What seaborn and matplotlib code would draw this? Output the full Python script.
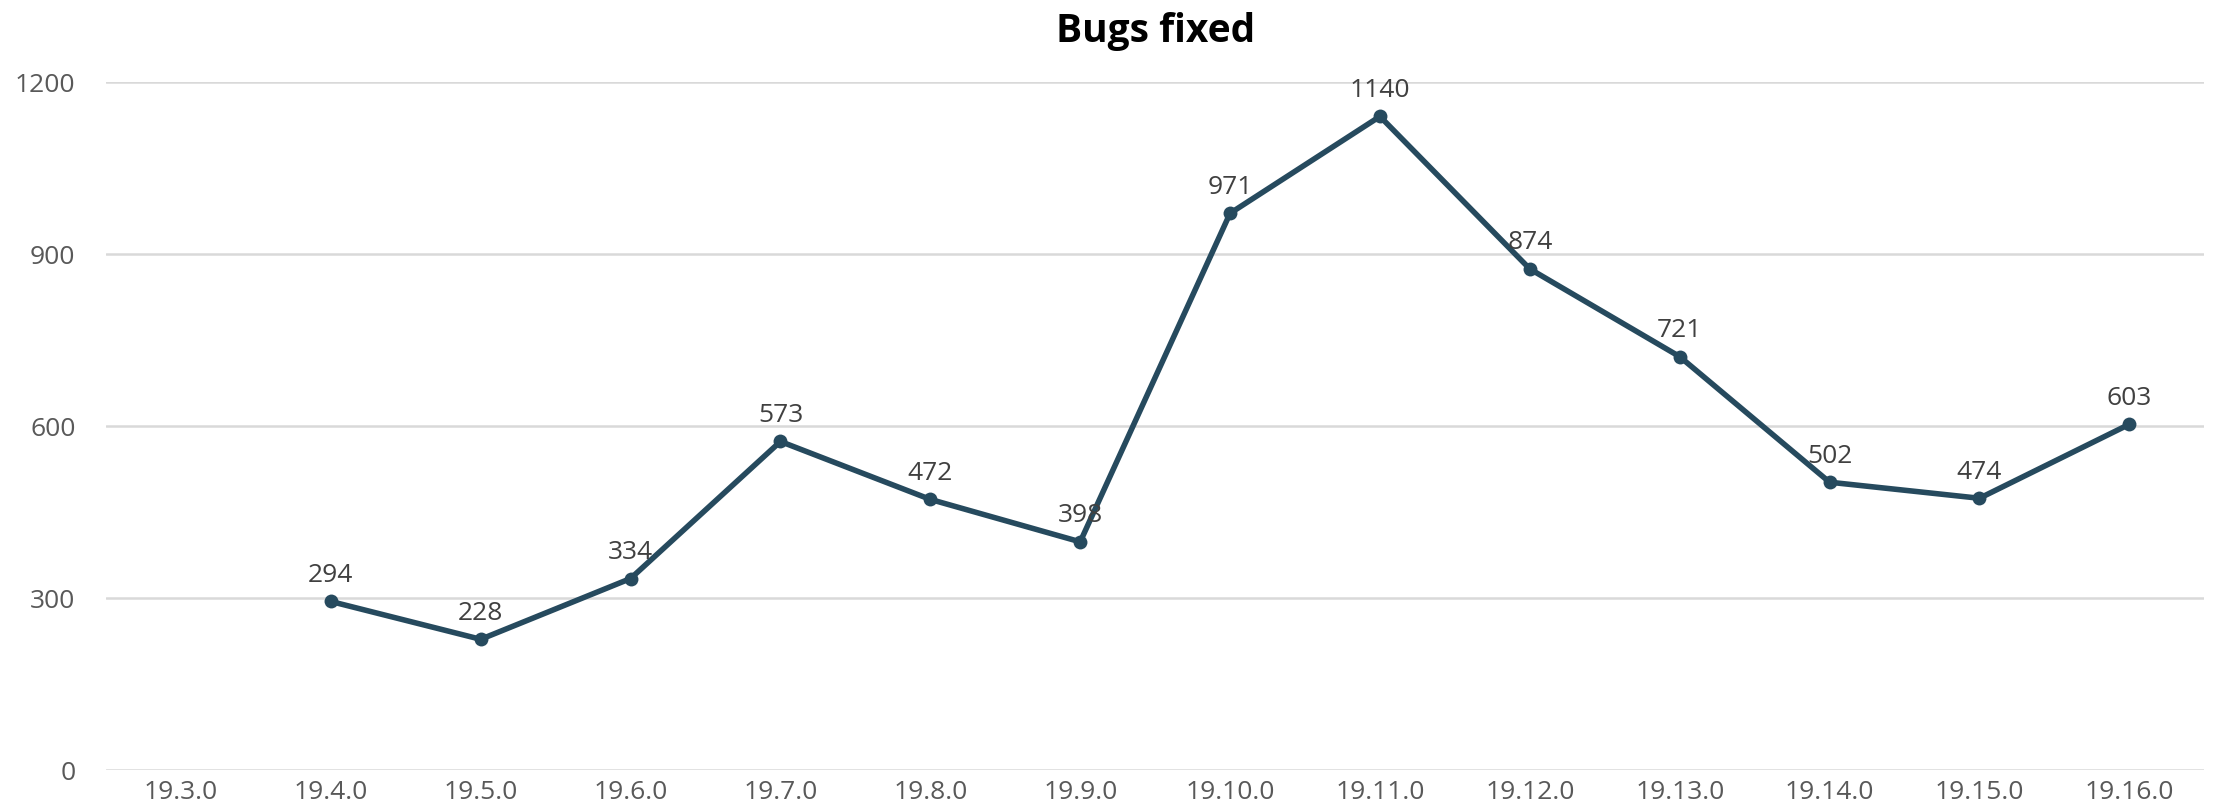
import matplotlib
matplotlib.use("Agg")
import matplotlib.pyplot as plt
import seaborn as sns
import numpy as np
import pandas as pd

categories = ["19.3.0", "19.4.0", "19.5.0", "19.6.0", "19.7.0", "19.8.0", "19.9.0",
              "19.10.0", "19.11.0", "19.12.0", "19.13.0", "19.14.0", "19.15.0", "19.16.0"]
bugs_fixed = [np.nan, 294, 228, 334, 573, 472, 398, 971, 1140, 874, 721, 502, 474, 603]
y_ticks = [0, 300, 600, 900, 1200]

sns.set_theme(style="white")
plt.rcParams['font.family'] = ['Open Sans', 'DejaVu Sans']

df = pd.DataFrame({"pos": np.arange(len(categories)), "value": bugs_fixed})

fig = plt.figure(figsize=(22.18, 8.08), dpi=100)
ax = fig.add_axes([0.0478, 0.047, 0.946, 0.8515])

color = "#264a5e"
sns.lineplot(data=df, x="pos", y="value", ax=ax, color=color, linewidth=4.0,
             marker="o", markersize=10, markeredgewidth=0, clip_on=False, zorder=3)

for x, v in zip(df["pos"], df["value"]):
    if not np.isnan(v):
        ax.annotate(f"{int(v)}", (x, v), xytext=(0, 14), textcoords="offset points",
                    ha="center", va="baseline", fontsize=19, color="#404040", zorder=4)

ax.set_xlim(-0.5, len(categories) - 0.5)
ax.set_ylim(0, 1200)
ax.set_yticks(y_ticks)
ax.set_xticks(range(len(categories)))
ax.set_xticklabels(categories)
ax.tick_params(axis="both", labelsize=19, labelcolor="#595959", length=0)
ax.tick_params(axis="y", pad=22)
ax.tick_params(axis="x", pad=7)
ax.yaxis.grid(True, color="#d9d9d9", linewidth=1.8)
ax.xaxis.grid(False)
for s in ax.spines.values():
    s.set_visible(False)
ax.set_xlabel("")
ax.set_ylabel("")
fig.suptitle("Bugs fixed", fontsize=28, fontweight="bold", color="black",
             x=0.0478 + 0.946 / 2, y=0.985)

fig.savefig("out.png", dpi=100)
